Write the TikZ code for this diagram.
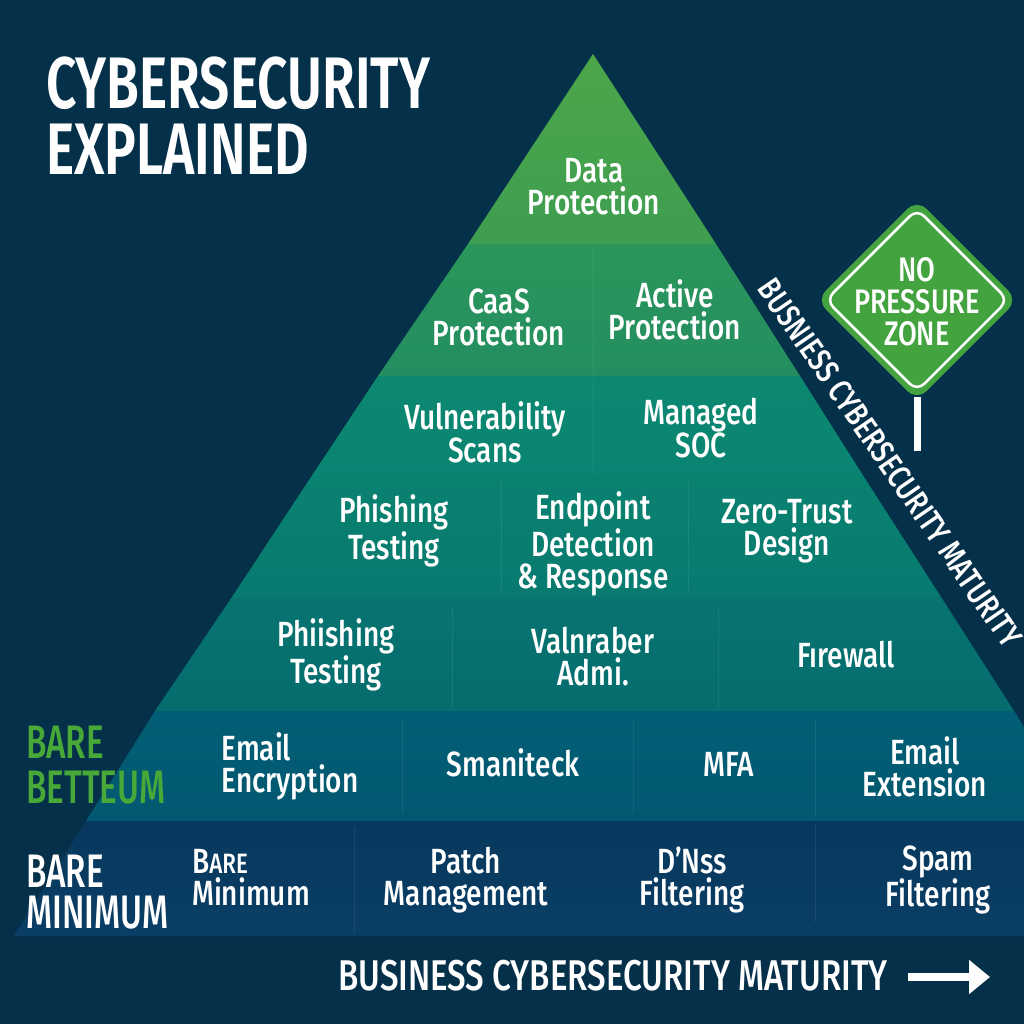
\documentclass[tikz,border=0pt]{standalone}
\usepackage{fontspec}
\setmainfont[FakeStretch=0.8]{Fira Sans Medium}
\newfontfamily\titlefont[FakeStretch=0.73]{Fira Sans SemiBold}
\newfontfamily\sidefont[FakeStretch=0.71]{Fira Sans Medium}
\newfontfamily\barfont[FakeStretch=0.77]{Fira Sans Medium}
\usetikzlibrary{arrows.meta}
\definecolor{bgnavy}{HTML}{04304A}
\definecolor{signgreen}{HTML}{43A33F}
\definecolor{labelgreen}{HTML}{48A838}
\tikzset{
	cell/.style={text=white, align=center, inner sep=0pt, font=\fontsize{35}{32}\selectfont},
	divider/.style={draw=white, draw opacity=0.07, line width=1pt},
	heading/.style={text=white, align=left, inner sep=0pt, font=\titlefont\fontsize{73}{66}\selectfont},
	sidelabel/.style={align=left, inner sep=0pt, font=\sidefont\fontsize{47}{45}\selectfont},
	maturity/.style={text=white, inner sep=0pt, font=\barfont\fontsize{43}{43}\selectfont}
}
\begin{document}
\begin{tikzpicture}[x=1pt, y=-1pt]
		\useasboundingbox (0, 0) rectangle (1024, 1024);
		\fill[bgnavy] (0, 0) rectangle (1024, 1024);
		\shade[top color={rgb,255:red,76;green,166;blue,74}, bottom color={rgb,255:red,62;green,158;blue,80}] (593, 54) -- (716, 244) -- (468, 244) -- cycle;
		\shade[top color={rgb,255:red,42;green,150;blue,90}, bottom color={rgb,255:red,36;green,142;blue,96}] (468, 244) -- (716, 244) -- (800, 376) -- (378, 376) -- cycle;
		\shade[top color={rgb,255:red,12;green,136;blue,112}, bottom color={rgb,255:red,10;green,132;blue,114}] (378, 376) -- (800, 376) -- (864, 477) -- (311, 477) -- cycle;
		\shade[top color={rgb,255:red,10;green,130;blue,112}, bottom color={rgb,255:red,8;green,122;blue,112}] (311, 477) -- (864, 477) -- (941, 597) -- (232, 597) -- cycle;
		\shade[top color={rgb,255:red,7;green,116;blue,112}, bottom color={rgb,255:red,6;green,108;blue,110}] (232, 597) -- (941, 597) -- (1014, 711) -- (155, 711) -- cycle;
		\shade[top color={rgb,255:red,2;green,94;blue,116}, bottom color={rgb,255:red,2;green,88;blue,112}] (155, 711) -- (1014, 711) -- (1024, 727) -- (1024, 821) -- (86, 821) -- cycle;
		\shade[top color={rgb,255:red,8;green,56;blue,94}, bottom color={rgb,255:red,10;green,62;blue,100}] (86, 821) -- (1024, 821) -- (1024, 936) -- (14, 936) -- cycle;
		\draw[divider] (593, 248) -- (593, 372);
		\draw[divider] (593, 380) -- (593, 474);
		\draw[divider] (501, 481) -- (501, 593);
		\draw[divider] (688, 481) -- (688, 593);
		\draw[divider] (452, 608) -- (452, 708);
		\draw[divider] (718, 608) -- (718, 708);
		\draw[divider] (402, 720) -- (402, 814);
		\draw[divider] (633, 720) -- (633, 814);
		\draw[divider] (815, 720) -- (815, 818);
		\draw[divider] (354, 826) -- (354, 932);
		\draw[divider] (815, 824) -- (815, 922);
		\node[heading, anchor=north west] (title) at (46, 57) {CYBERSECURITY\\EXPLAINED};
		\node[cell] (data) at (594, 187) {Data\\Protection};
		\node[cell] (caas) at (499, 317) {CaaS\\Protection};
		\node[cell] (active) at (675, 310) {Active\\Protection};
		\node[cell] (vuln) at (485, 432) {Vulnerability\\Scans};
		\node[cell] (soc) at (701, 428) {Managed\\SOC};
		\node[cell] (phish) at (394, 531) {Phishing\\Testing};
		\node[cell] (edr) at (593, 544) {Endpoint\\Detection\\\& Response};
		\node[cell] (trust) at (787, 531) {Zero-Trust\\Design};
		\node[cell] (phiish) at (336, 655) {Phiishing\\Testing};
		\node[cell] (valn) at (593, 657) {Valnraber\\Admi.};
		\node[cell] (fire) at (846, 655) {Fırewall};
		\node[cell, align=left] (encrypt) at (290, 766) {Email\\Encryption};
		\node[cell] (sman) at (513, 763) {Smaniteck};
		\node[cell] (mfa) at (729, 764) {MFA};
		\node[cell] (extend) at (925, 767) {Email\\Extension};
		\node[cell, align=left] (barecell) at (251, 878) {B{\fontsize{28}{32}\selectfont ARE}\\Minimum};
		\node[cell] (patch) at (466, 880) {Patch\\Management};
		\node[cell] (dns) at (692, 880) {D’Nss\\Filtering};
		\node[cell] (spam) at (938, 880) {Spam\\Filtering};
		\node[sidelabel, text=labelgreen, anchor=west] (better) at (26, 765) {BARE\\BETTEUM};
		\node[sidelabel, text=white, anchor=west, font=\sidefont\fontsize{47}{41}\selectfont] (minimum) at (26, 892) {BARE\\MINIMUM};
		\node[maturity, anchor=west] (bottomlabel) at (338, 976) {BUSINESS CYBERSECURITY MATURITY};
		\node[maturity, rotate=-55.5, font=\fontsize{33}{33}\selectfont] (sidetitle) at (890, 463) {BUSNIESS CYBERSECURITY MATURITY};
		\coordinate (arrowstart) at (908, 977);
		\coordinate (arrowend) at (990, 977);
		\draw[white, line width=8pt, -{Triangle[length=21pt, width=33pt]}] (arrowstart) -- (arrowend);
		\coordinate (postTop) at (917, 397);
		\coordinate (postEnd) at (917, 451);
		\draw[white, line width=7pt] (postTop) -- (postEnd);
		\draw[signgreen, fill=signgreen, line width=1pt, rounded corners=13pt] (917, 200) -- (1017, 300) -- (917, 400) -- (817, 300) -- cycle;
		\draw[white, line width=2.5pt, rounded corners=10pt] (917, 209) -- (1008, 300) -- (917, 391) -- (826, 300) -- cycle;
		\node[text=white, align=center, inner sep=0pt, font=\fontsize{34}{32}\selectfont] (sign) at (917, 302) {NO\\PRESSURE\\ZONE};
\end{tikzpicture}
\end{document}
